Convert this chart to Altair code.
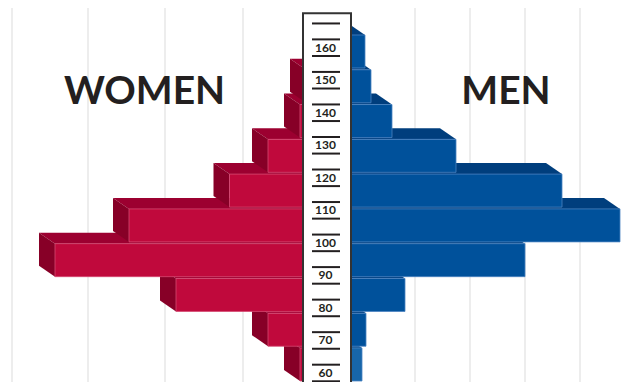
import altair as alt
import pandas as pd

# ---------------- data ----------------
bin_hi = [160, 150, 140, 130, 120, 110, 100, 90, 80, 70]          # upper edge of each 10-point bin
women = [0.5, 2.1, 2.7, 5.9, 9.75, 19.8, 27.2, 15.1, 5.9, 2.7]    # bar length (arbitrary units)
men = [3.8, 4.4, 6.5, 12.9, 23.5, 29.3, 19.8, 7.8, 3.9, 3.5]
ruler_labels = [60, 70, 80, 90, 100, 110, 120, 130, 140, 150, 160]
ruler_marks = [60, 70, 80, 90, 100, 110, 120, 130, 140, 150, 160, 170]
women_grid = [-31.5, -23.9, -16.2, -8.4]
men_grid = [8.8, 14.3, 19.8, 25.3]
side_labels = ["WOMEN", "MEN"]
side_label_x = [-18.25, 17.9]
side_label_y = [140.2, 140.2]

# ---------------- layout ----------------
W, H = 615, 374
X_DOM = [-31.9, 29.6]
BAR_DOM = [60.23, 167.76]
IQ_DOM = [57.23, 172.2]
UNIT_Y = (BAR_DOM[1] - BAR_DOM[0]) / H      # bar-scale units per pixel
DX = 1.6                                     # depth of the 3D extrusion (x units)
DY = 11 * UNIT_Y                             # depth of the 3D extrusion (bar y units)
GAP = 1.8 * UNIT_Y
BOX_HALF = 2.4
BOX_TOP = 170.57
TICK_OFF = 2.55

W_FRONT, W_TOP, W_SIDE = "#c0093c", "#9c0030", "#870027"
M_FRONT, M_TOP = "#00519b", "#003e7d"
M_FRONT_LOW, M_TOP_LOW = "#1766a9", "#0e508c"
INK = "#231f20"

xs = alt.Scale(domain=X_DOM, nice=False, zero=False)
ybar = alt.Scale(domain=BAR_DOM, nice=False, zero=False)
yiq = alt.Scale(domain=IQ_DOM, nice=False, zero=False)

# ---------------- derived tables ----------------
front_rows, top_rows, side_rows = [], [], []
for hi, w, m in zip(bin_hi, women, men):
    lo = hi - 10
    front_rows.append(dict(sex="W", hi=hi, x=-w, x2=0.0, y=hi, y2=lo + GAP))
    front_rows.append(dict(sex="M", hi=hi, x=0.0, x2=m, y=hi, y2=lo + GAP))
    top_rows += [
        dict(sex="W", hi=hi, key=f"W{hi}", y=hi, xa=-w, xb=0.0),
        dict(sex="W", hi=hi, key=f"W{hi}", y=hi + DY, xa=-w - DX, xb=-DX),
        dict(sex="M", hi=hi, key=f"M{hi}", y=hi, xa=0.0, xb=m),
        dict(sex="M", hi=hi, key=f"M{hi}", y=hi + DY, xa=-DX, xb=m - DX),
    ]
    side_rows += [
        dict(hi=hi, key=f"S{hi}", x=-w - DX, ya=hi + DY, yb=lo + GAP + DY),
        dict(hi=hi, key=f"S{hi}", x=-w, ya=hi, yb=lo + GAP),
    ]
front = pd.DataFrame(front_rows).sort_values("hi")
tops = pd.DataFrame(top_rows).sort_values("hi")
sides = pd.DataFrame(side_rows).sort_values("hi")

grid = pd.DataFrame({"x": women_grid + men_grid})
labels = pd.DataFrame({"t": side_labels, "x": side_label_x, "y": side_label_y})
ticks = pd.DataFrame(
    {"y": [v + s * TICK_OFF for v in ruler_marks for s in (-1, 1) if v + s * TICK_OFF < BOX_TOP]}
)
rlab = pd.DataFrame({"v": ruler_labels, "s": [str(v) for v in ruler_labels]})
box = pd.DataFrame({"x": [-BOX_HALF], "x2": [BOX_HALF], "y": [BOX_TOP], "y2": [IQ_DOM[0] - 10]})

# ---------------- layers ----------------
grid_l = alt.Chart(grid).mark_rule(color="#ededed", strokeWidth=2).encode(
    x=alt.X("x:Q", scale=xs, axis=None)
)

label_l = alt.Chart(labels).mark_text(
    font="Lato", fontWeight="bold", fontSize=39, color=INK, align="center", baseline="alphabetic"
).encode(
    x=alt.X("x:Q", scale=xs, axis=None),
    y=alt.Y("y:Q", scale=ybar, axis=None),
    text="t:N",
)

w_top = alt.Chart(tops[tops.sex == "W"]).mark_area(orient="horizontal", color=W_TOP).encode(
    y=alt.Y("y:Q", scale=ybar, axis=None),
    x=alt.X("xa:Q", scale=xs, axis=None),
    x2="xb:Q",
    detail="key:N",
)
m_top = alt.Chart(tops[tops.sex == "M"]).mark_area(orient="horizontal").encode(
    y=alt.Y("y:Q", scale=ybar, axis=None),
    x=alt.X("xa:Q", scale=xs, axis=None),
    x2="xb:Q",
    detail="key:N",
    color=alt.condition("datum.hi == 70", alt.value(M_TOP_LOW), alt.value(M_TOP)),
)
w_side = alt.Chart(sides).mark_area(orient="vertical", color=W_SIDE).encode(
    x=alt.X("x:Q", scale=xs, axis=None),
    y=alt.Y("ya:Q", scale=ybar, axis=None),
    y2="yb:Q",
    detail="key:N",
)
w_front = alt.Chart(front[front.sex == "W"]).mark_rect(
    color=W_FRONT, stroke="#d64a72", strokeWidth=0.8
).encode(
    x=alt.X("x:Q", scale=xs, axis=None),
    x2="x2:Q",
    y=alt.Y("y:Q", scale=ybar, axis=None),
    y2="y2:Q",
)
m_front = alt.Chart(front[front.sex == "M"]).mark_rect(stroke="#4a83c2", strokeWidth=0.8).encode(
    x=alt.X("x:Q", scale=xs, axis=None),
    x2="x2:Q",
    y=alt.Y("y:Q", scale=ybar, axis=None),
    y2="y2:Q",
    color=alt.condition("datum.hi == 70", alt.value(M_FRONT_LOW), alt.value(M_FRONT)),
)

box_l = alt.Chart(box).mark_rect(fill="white", stroke="#333333", strokeWidth=2, clip=True).encode(
    x=alt.X("x:Q", scale=xs, axis=None),
    x2="x2:Q",
    y=alt.Y("y:Q", scale=yiq, axis=None),
    y2="y2:Q",
)
tick_l = alt.Chart(ticks).mark_rule(color=INK, strokeWidth=2).encode(
    x=alt.datum(-1.5, scale=xs),
    x2=alt.datum(1.3),
    y=alt.Y("y:Q", scale=yiq, axis=None),
)
rlab_l = alt.Chart(rlab).mark_text(
    font="Lato", fontWeight="bold", fontSize=12, color=INK, align="center", baseline="middle"
).encode(
    x=alt.datum(-0.15, scale=xs),
    y=alt.Y("v:Q", scale=yiq, axis=None),
    text="s:N",
)

chart = (
    alt.layer(grid_l, label_l, w_top, m_top, w_side, w_front, m_front, box_l, tick_l, rlab_l)
    .resolve_scale(y="independent")
    .properties(width=W, height=H, padding=0, autosize="none")
    .configure_view(strokeWidth=0)
)

chart.save("out.html", embed_options={"renderer": "svg", "actions": False})
